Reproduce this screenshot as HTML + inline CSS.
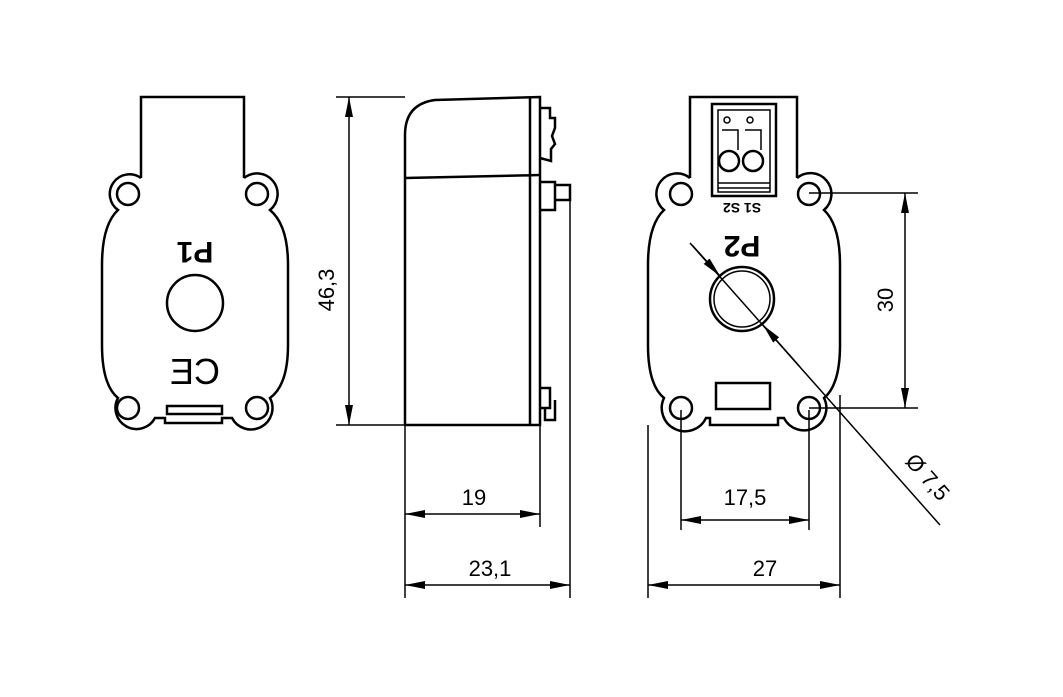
<!DOCTYPE html>
<html><head><style>body{margin:0;background:#fff}svg{display:block}text{font-family:"Liberation Sans",sans-serif;font-size:22px;fill:#000}</style></head>
<body>
<svg width="1063" height="697" viewBox="0 0 1063 697" xmlns="http://www.w3.org/2000/svg">
<defs>
<marker id="a" viewBox="0 0 20 8" refX="20" refY="4" markerWidth="20" markerHeight="8" markerUnits="userSpaceOnUse" orient="auto-start-reverse"><path d="M0,0L20,4L0,8z" fill="#000"/></marker>
</defs>
<g fill="none" stroke="#000" stroke-width="2.5">
<!-- left view -->
<path d="M141,178V97H244V178"/>
<path d="M141,178 A17,17 0 0 0 118,210 Q102,225 102,265 V345 Q102,385 118,398 A17,17 0 0 0 155,418 H165 V423 H222 V418 H232 A17,17 0 0 0 270,398 Q288,385 288,345 V265 Q288,225 270,210 A17,17 0 0 0 244,178"/>
<circle cx="128" cy="194" r="11"/><circle cx="257" cy="194" r="11"/>
<circle cx="128" cy="408" r="11"/><circle cx="257" cy="408" r="11"/>
<circle cx="195" cy="303" r="28"/>
<rect x="167" y="406" width="55" height="8"/>
<!-- side view -->
<path d="M405,425V135Q405,104 435,100L540,97V425H405"/>
<path d="M530,97V425M405,178L540,175"/>
<path d="M540,108h10v10h5v10l-3,8 3,8-4,5v12l-11,-3M540,182h15v28h-15M555,185h15v15h-15M540,388h10v20h-10M545,408v12h10v-20"/>
<!-- right view -->
<path d="M690,178V97H797V178"/>
<path d="M690,178 A17,17 0 0 0 664,210 Q648,225 648,265 V345 Q648,385 664,398 A17,17 0 0 0 706,418 H710 V425 H778 V418 H784 A17,17 0 0 0 824,398 Q840,385 840,345 V265 Q840,225 824,210 A17,17 0 0 0 797,178"/>
<circle cx="681" cy="194" r="11"/><circle cx="809" cy="194" r="11"/>
<circle cx="681" cy="408" r="11"/><circle cx="809" cy="408" r="11"/>
<circle cx="742" cy="299" r="32"/>
<circle cx="742" cy="299" r="28" stroke-width="1.5"/>
<rect x="716" y="383" width="54" height="26"/>
<rect x="712" y="104" width="64" height="92"/>
<rect x="718" y="110" width="52" height="82" stroke-width="1.5"/>
<circle cx="727" cy="120" r="3" stroke-width="1.5"/><circle cx="750" cy="120" r="3" stroke-width="1.5"/>
<circle cx="729" cy="161" r="10"/><circle cx="753" cy="161" r="10"/>
<path d="M722,130h16v20M745,130h16v20M718,183h52M718,188h52" stroke-width="1.5"/>
</g>
<g stroke="#000" stroke-width="1.5" fill="none">
<path d="M336,97H405M336,425H405"/>
<line x1="349" y1="97" x2="349" y2="425" marker-start="url(#a)" marker-end="url(#a)"/>
<path d="M405,425V598M540,425V527M570,190V598M648,425V598M840,395V598M681,410V530M809,410V530"/>
<line x1="405" y1="514" x2="540" y2="514" marker-start="url(#a)" marker-end="url(#a)"/>
<line x1="405" y1="585" x2="570" y2="585" marker-start="url(#a)" marker-end="url(#a)"/>
<line x1="681" y1="520" x2="809" y2="520" marker-start="url(#a)" marker-end="url(#a)"/>
<line x1="648" y1="585" x2="840" y2="585" marker-start="url(#a)" marker-end="url(#a)"/>
<path d="M809,193H918M809,408H918"/>
<line x1="905" y1="193" x2="905" y2="408" marker-start="url(#a)" marker-end="url(#a)"/>
<line x1="690" y1="243" x2="940" y2="525"/>
<line x1="692" y1="245" x2="720" y2="276" marker-end="url(#a)"/>
<line x1="800" y1="367" x2="763" y2="325" marker-end="url(#a)"/>
</g>
<text x="195" y="242" text-anchor="middle" transform="rotate(180 195 242)" style="font-size:30px;font-weight:bold">P1</text>
<text x="195" y="384" text-anchor="middle" transform="translate(390 0) scale(-1 1)" style="font-size:36px">CE</text>
<text x="742" y="236" text-anchor="middle" transform="rotate(180 742 236)" style="font-size:30px;font-weight:bold">P2</text>
<text x="742" y="211" text-anchor="middle" transform="rotate(180 742 207)" style="font-size:14px;font-weight:bold">S1 S2</text>
<text x="334" y="290" text-anchor="middle" transform="rotate(-90 334 290)">46,3</text>
<text x="474" y="505" text-anchor="middle">19</text>
<text x="490" y="576" text-anchor="middle">23,1</text>
<text x="745" y="505" text-anchor="middle">17,5</text>
<text x="765" y="576" text-anchor="middle">27</text>
<text x="893" y="300" text-anchor="middle" transform="rotate(-90 893 300)">30</text>
<text x="922" y="482" text-anchor="middle" transform="rotate(48.6 922 482)">Ø 7,5</text>
</svg>
</body></html>
